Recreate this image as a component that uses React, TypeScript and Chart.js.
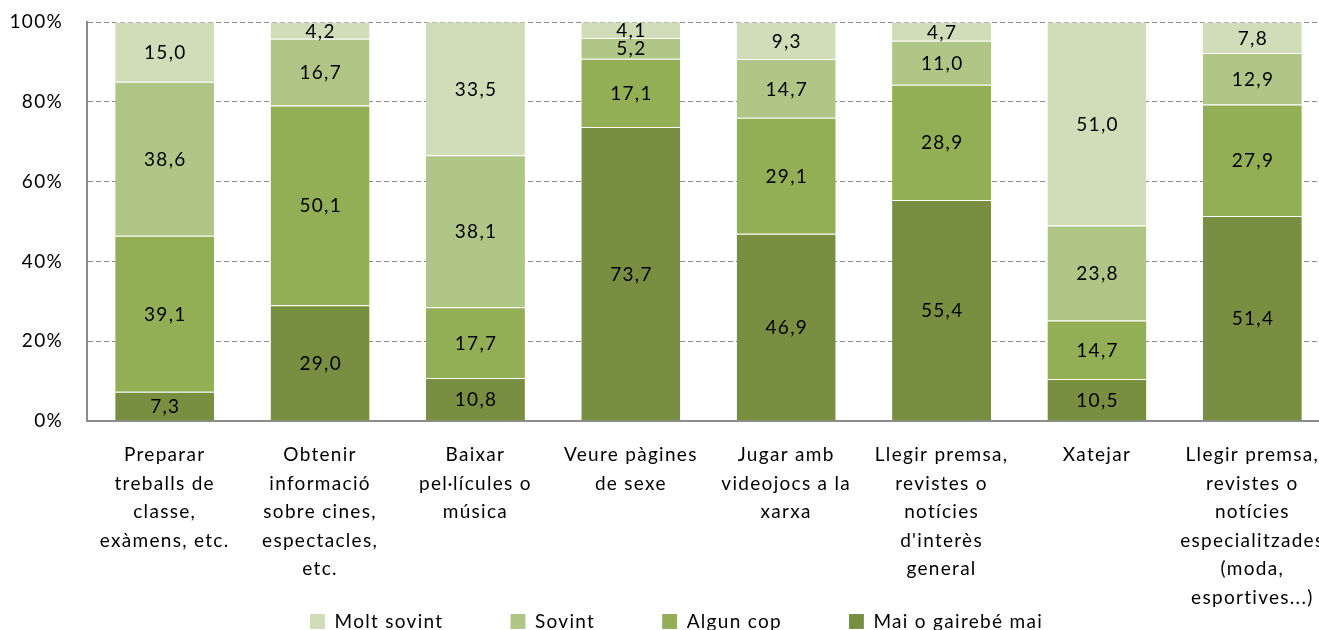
import React, { useEffect, useRef } from "react";
import { Chart, registerables } from "chart.js";

Chart.register(...registerables);

const categories: string[][] = [
  ["Preparar", "treballs de", "classe,", "exàmens, etc."],
  ["Obtenir", "informació", "sobre cines,", "espectacles,", "etc."],
  ["Baixar", "pel·lícules o", "música"],
  ["Veure pàgines", "de sexe"],
  ["Jugar amb", "videojocs a la", "xarxa"],
  ["Llegir premsa,", "revistes o", "notícies", "d'interès", "general"],
  ["Xatejar"],
  ["Llegir premsa,", "revistes o", "notícies", "especialitzades", "(moda,", "esportives...)"],
];

const maiOGairebeMai = [7.3, 29.0, 10.8, 73.7, 46.9, 55.4, 10.5, 51.4];
const algunCop = [39.1, 50.1, 17.7, 17.1, 29.1, 28.9, 14.7, 27.9];
const sovint = [38.6, 16.7, 38.1, 5.2, 14.7, 11.0, 23.8, 12.9];
const moltSovint = [15.0, 4.2, 33.5, 4.1, 9.3, 4.7, 51.0, 7.8];

const yTicks = [0, 20, 40, 60, 80, 100];

const FONT = "Lato";
const FS = 19;
const SPACING = "1.3px";
const PAD_LEFT = 23;
const CANVAS_W = 1330;
const CANVAS_H = 630;

const letterSpacing = {
  id: "letterSpacing",
  beforeLayout(chart: any) {
    (chart.ctx as any).letterSpacing = SPACING;
  },
  beforeDraw(chart: any) {
    (chart.ctx as any).letterSpacing = SPACING;
  },
};

const valueLabels = {
  id: "valueLabels",
  afterDatasetsDraw(chart: any) {
    const ctx = chart.ctx;
    ctx.save();
    ctx.letterSpacing = SPACING;
    ctx.font = `${FS}px ${FONT}`;
    ctx.fillStyle = "#000";
    ctx.textAlign = "center";
    ctx.textBaseline = "middle";
    chart.data.datasets.forEach((ds: any, i: number) => {
      const meta = chart.getDatasetMeta(i);
      if (meta.hidden) return;
      meta.data.forEach((bar: any, j: number) => {
        const v = ds.data[j];
        const y = (bar.y + bar.base) / 2;
        ctx.fillText(v.toFixed(1).replace(".", ","), bar.x + 0.6, y + 1);
      });
    });
    ctx.restore();
  },
};

export default function App() {
  const ref = useRef<HTMLCanvasElement>(null);
  useEffect(() => {
    if (!ref.current) return;
    const mk = (label: string, data: number[], color: string) => ({
      label,
      data,
      backgroundColor: color,
      borderColor: "rgba(255,255,255,0.35)",
      borderWidth: { top: 1, bottom: 0, left: 0, right: 0 },
      borderSkipped: false as any,
      categoryPercentage: 1,
      barPercentage: 0.637,
    });
    const chart = new Chart(ref.current, {
      type: "bar",
      data: {
        labels: categories as any,
        datasets: [
          mk("Mai o gairebé mai", maiOGairebeMai, "#788F42"),
          mk("Algun cop", algunCop, "#93AF56"),
          mk("Sovint", sovint, "#AFC686"),
          mk("Molt sovint", moltSovint, "#D0DDB8"),
        ],
      },
      options: {
        animation: false,
        responsive: false,
        maintainAspectRatio: false,
        layout: { padding: { top: 22, right: 0, left: PAD_LEFT, bottom: -11 } },
        plugins: {
          legend: {
            position: "bottom",
            reverse: true,
            labels: {
              boxWidth: 15,
              boxHeight: 15,
              padding: 67,
              color: "#000",
              font: { family: FONT, size: FS },
            },
          },
          tooltip: { enabled: false },
        },
        scales: {
          x: {
            stacked: true,
            grid: { display: false, drawTicks: true, tickLength: 20 },
            border: { display: true, color: "#8c8c8c", width: 2 },
            ticks: {
              color: "#000",
              padding: 0,
              maxRotation: 0,
              autoSkip: false,
              font: { family: FONT, size: FS, lineHeight: 1.5 },
            },
            afterFit: (scale: any) => {
              scale.height = CANVAS_H + 11 - 421 - scale.chart.legend.height;
              scale._computeLabelArea = () => undefined;
            },
          },
          y: {
            stacked: true,
            min: 0,
            max: 100,
            afterBuildTicks: (scale: any) => {
              scale.ticks = yTicks.map((v) => ({ value: v }));
            },
            grid: {
              color: "#8c8c8c",
              drawTicks: true,
              tickLength: 21,
              tickColor: "rgba(0,0,0,0)",
              lineWidth: 1,
            },
            border: { display: true, color: "#8c8c8c", width: 2, dash: [5, 3] as any },
            ticks: {
              color: "#000",
              padding: 3,
              font: { family: FONT, size: FS },
              callback: (v: any) => `${v}%`,
            },
            afterFit: (scale: any) => {
              scale.width = 87 - PAD_LEFT;
              scale._computeLabelArea = () => undefined;
            },
          },
        },
      },
      plugins: [letterSpacing, valueLabels],
    });
    return () => chart.destroy();
  }, []);
  return (
    <div style={{ position: "fixed", left: 0, top: 0, width: 1319, height: 630, overflow: "hidden", background: "#fff" }}>
      <canvas ref={ref} width={CANVAS_W} height={CANVAS_H} style={{ width: CANVAS_W, height: CANVAS_H, display: "block" }} />
    </div>
  );
}
